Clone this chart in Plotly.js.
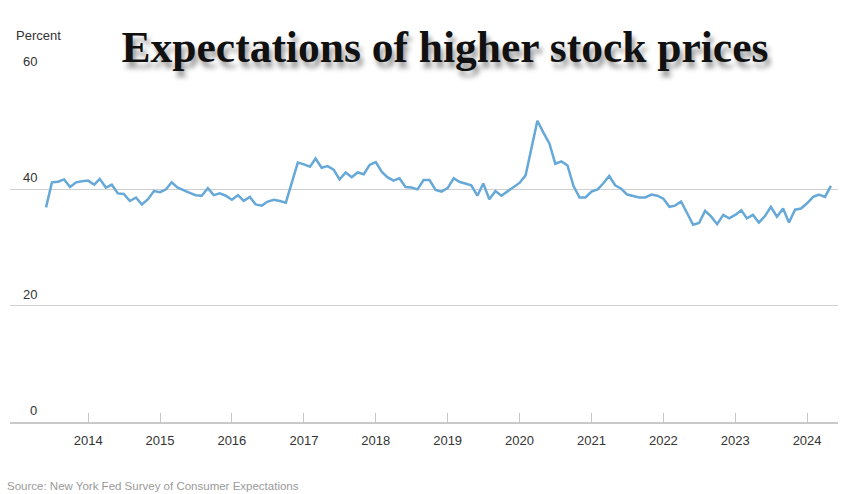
<!DOCTYPE html>
<html>
<head>
<meta charset="utf-8">
<script src="https://cdn.plot.ly/plotly-3.0.1.min.js"></script>
<style>
  html, body { margin: 0; padding: 0; background: #fff; }
  #chart { width: 842px; height: 494px; }
</style>
</head>
<body>
<div id="chart"></div>
<script>
// Monthly series, June 2013 – May 2024 (percent expecting higher stock prices)
const firstMonth = { year: 2013, month: 6 };
const values = [
  // 2013 Jun–Dec
  36.9, 41.2, 41.3, 41.7, 40.4, 41.2, 41.4,
  // 2014
  41.5, 40.8, 41.8, 40.3, 40.8, 39.3, 39.2, 38.0, 38.6, 37.4, 38.3, 39.7,
  // 2015
  39.5, 40.0, 41.2, 40.3, 39.8, 39.4, 39.0, 38.9, 40.2, 39.0, 39.3, 38.9,
  // 2016
  38.2, 39.0, 38.0, 38.7, 37.4, 37.2, 37.9, 38.2, 38.0, 37.7, 41.2, 44.6,
  // 2017
  44.3, 43.9, 45.3, 43.7, 44.0, 43.4, 41.7, 42.9, 42.1, 42.9, 42.6, 44.2,
  // 2018
  44.7, 43.0, 42.1, 41.5, 41.9, 40.4, 40.3, 40.0, 41.6, 41.6, 39.9, 39.6,
  // 2019
  40.2, 41.9, 41.3, 41.0, 40.7, 38.9, 41.0, 38.3, 39.7, 38.9, 39.6, 40.3,
  // 2020
  41.1, 42.4, 47.0, 51.8, 49.8, 47.9, 44.4, 44.8, 44.1, 40.6, 38.6, 38.6,
  // 2021
  39.6, 40.0, 41.0, 42.3, 40.7, 40.1, 39.1, 38.9, 38.6, 38.6, 39.1, 38.9,
  // 2022
  38.4, 37.0, 37.2, 37.9, 35.9, 33.9, 34.2, 36.3, 35.3, 34.0, 35.6, 35.0,
  // 2023
  35.6, 36.4, 35.0, 35.6, 34.3, 35.4, 37.0, 35.3, 36.7, 34.3, 36.5, 36.7,
  // 2024 Jan–May
  37.6, 38.7, 39.1, 38.7, 40.6
];
const xTickYears = ['2014', '2015', '2016', '2017', '2018', '2019', '2020', '2021', '2022', '2023', '2024'];
const yTickValues = [0, 20, 40, 60];
const yTickLabels = ['0', '20', '40', '60'];
const xRange = ['2012-11-30', '2024-06-06'];
const titleText = 'Expectations of higher stock prices';
const yUnitText = 'Percent';
const sourceText = 'Source: New York Fed Survey of Consumer Expectations';

const dates = values.map((_, i) => {
  const m0 = firstMonth.month - 1 + i;
  const y = firstMonth.year + Math.floor(m0 / 12);
  const m = (m0 % 12) + 1;
  return y + '-' + String(m).padStart(2, '0') + '-01';
});

// plot area geometry (pixels)
const L = 10, T = 73, W = 828, H = 349;
const px = x => (x - L) / W;
const py = y => (T + H - y) / H;

const labelFont = { family: 'Liberation Sans, Arial, sans-serif', size: 13, color: '#333333' };

const annotations = yTickValues.map((v, i) => ({
  text: yTickLabels[i], xref: 'paper', yref: 'y', x: px(39), y: v,
  xanchor: 'right', yanchor: 'bottom', yshift: 2, showarrow: false,
  font: labelFont
}));
annotations.push({
  text: yUnitText, xref: 'paper', yref: 'paper', x: px(14), y: py(35),
  xanchor: 'left', yanchor: 'middle', showarrow: false,
  font: labelFont
});
annotations.push({
  text: sourceText, xref: 'paper', yref: 'paper', x: px(5), y: py(486),
  xanchor: 'left', yanchor: 'middle', showarrow: false,
  font: { family: 'Liberation Sans, Arial, sans-serif', size: 11.5, color: '#9a9a9a' }
});

const trace = {
  x: dates, y: values, type: 'scatter', mode: 'lines',
  line: { color: '#66a8d8', width: 2.5 },
  hoverinfo: 'x+y'
};

const layout = {
  width: 842, height: 494,
  margin: { l: L, r: 842 - L - W, t: T, b: 494 - T - H },
  paper_bgcolor: '#ffffff', plot_bgcolor: '#ffffff',
  showlegend: false,
  title: {
    text: titleText, xref: 'container', yref: 'container',
    x: 445 / 842, y: 1 - 47 / 494, xanchor: 'center', yanchor: 'middle',
    font: { family: 'Liberation Serif, Times New Roman, serif', size: 43.5, color: '#111111', weight: 'bold',
            shadow: '3px 6px 5px rgba(0,0,0,0.4)' }
  },
  xaxis: {
    type: 'date', range: xRange,
    tickmode: 'array', tickvals: xTickYears.map(y => y + '-01-01'), ticktext: xTickYears,
    showgrid: false, zeroline: false,
    showline: true, linecolor: '#c8c8c8', linewidth: 1.5,
    ticks: 'inside', ticklen: 9, tickcolor: '#c8c8c8', tickwidth: 1,
    tickfont: labelFont,
    ticklabelstandoff: 6
  },
  yaxis: {
    range: [0, 60], tickvals: yTickValues, showticklabels: false,
    showgrid: true, gridcolor: '#cfcfcf', gridwidth: 1,
    zeroline: false, showline: false, ticks: ''
  },
  annotations: annotations
};

Plotly.newPlot('chart', [trace], layout, { displayModeBar: false, staticPlot: true });
</script>
</body>
</html>
